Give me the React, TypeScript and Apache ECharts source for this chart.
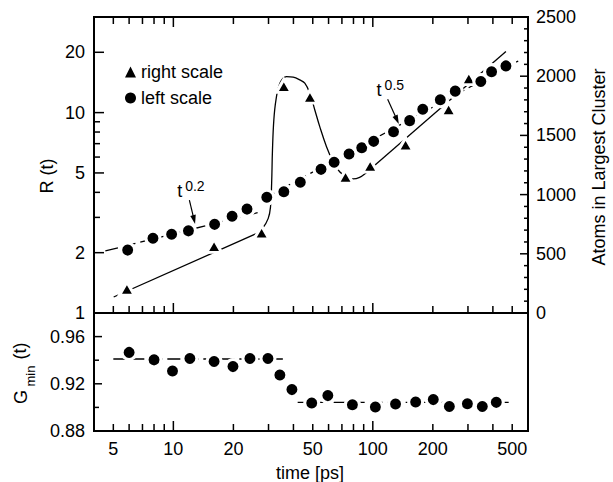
import React, { useEffect, useRef } from 'react';
import * as echarts from 'echarts';

// ---------------- data ----------------
const rTimes = [5.9, 7.9, 9.8, 11.9, 16.1, 19.7, 23.4, 29.4, 35.8, 43.3, 55, 64, 76, 88, 101, 127, 153, 178, 218, 259, 348, 394, 465];
const rValues = [2.06, 2.36, 2.47, 2.57, 2.77, 3.04, 3.30, 3.78, 4.03, 4.49, 5.21, 5.65, 6.22, 6.68, 7.19, 8.03, 9.12, 10.4, 11.6, 12.8, 14.3, 16.0, 17.1];
const atomTimes = [5.85, 16, 27.7, 35.8, 48.4, 73, 97, 146, 240, 303];
const atomValues = [206, 567, 680, 1918, 1828, 1151, 1244, 1425, 1721, 1984];
const gTimes = [6.0, 8.0, 9.9, 12.1, 16, 19.9, 24.2, 29.8, 34.2, 39.3, 49.4, 59.5, 79, 103, 130, 164, 201, 242, 298, 354, 416];
const gValues = [0.9466, 0.9403, 0.9308, 0.9414, 0.9389, 0.9346, 0.9414, 0.9414, 0.9274, 0.9151, 0.9037, 0.9100, 0.9023, 0.9003, 0.9029, 0.9046, 0.9066, 0.9008, 0.9031, 0.9008, 0.9043];

const fitEarlyTimes = [4.56, 27.2];
const fitEarlyValues = [2.04, 3.19];
const fitLateTimes = [28.1, 536];
const fitLateValues = [3.70, 18.1];
const atomLowTimes = [5.02, 26.2];
const atomLowValues = [135, 672];
const atomHumpTimes = [26.2, 28.0, 29.9, 30.7, 31.1, 31.4, 31.9, 32.7, 34.2, 36.9, 39.9, 43.0, 45.6, 48.3, 51.2, 54.2, 58.6, 63.2, 68.2, 73.7, 79.5, 85.9, 92.8, 98.3];
const atomHumpValues = [672, 714, 799, 897, 1095, 1377, 1631, 1800, 1941, 1997, 1992, 1969, 1941, 1857, 1715, 1574, 1405, 1278, 1193, 1151, 1132, 1146, 1185, 1222];
const atomHighTimes = [98.3, 465];
const atomHighValues = [1222, 2209];
const gEarlyTimes = [5, 35.4];
const gEarlyValues = [0.941, 0.941];
const gLateTimes = [42, 508];
const gLateValues = [0.9043, 0.9043];

const xLabelTicks = [5, 10, 20, 50, 100, 200, 500];
const xMinorTicks = [5, 6, 7, 8, 9, 20, 30, 40, 50, 60, 70, 80, 90, 200, 300, 400, 500];
const xDecadeTicks = [10, 100];
const rLabelTicks = [1, 2, 5, 10, 20];
const rMajorTicks = [2, 5, 10, 20];
const rMinorTicks = [3, 4, 6, 7, 8, 9];
const atomLabelTicks = [0, 500, 1000, 1500, 2000, 2500];
const atomMajorTicks = [500, 1000, 1500, 2000];
const atomMinorTicks = [100, 200, 300, 400, 600, 700, 800, 900, 1100, 1200, 1300, 1400, 1600, 1700, 1800, 1900, 2100, 2200, 2300, 2400];
const gLabelTicks = [0.88, 0.92, 0.96];
const gMajorTicks = [0.92, 0.96];
const gMinorTicks = [0.90, 0.94];

const X_MIN = 4, X_MAX = 600;
const R_MIN = 1, R_MAX = 30;
const A_MIN = 0, A_MAX = 2500;
const G_MIN = 0.88, G_MAX = 0.98;

const annot02 = { text: [10.45, 4.06], tail: [12.03, 3.66], tip: [12.85, 2.78], exp: '0.2' };
const annot05 = { text: [104.5, 12.99], tail: [118.7, 11.67], tip: [135, 8.78], exp: '0.5' };

const GRID_TOP = { left: 94, top: 17, width: 434, height: 296 };
const GRID_BOTTOM = { left: 94, top: 313, width: 434, height: 118 };

const FONT = 'Liberation Sans, Arial, Helvetica, sans-serif';
const zip = (a: number[], b: number[]) => a.map((v, i) => [v, b[i]]);

export default function App() {
  const ref = useRef<HTMLDivElement>(null);
  useEffect(() => {
    if (!ref.current) return;
    const chart = echarts.init(ref.current, undefined, { renderer: 'svg' });

    const labelStyle = { fontSize: 18, color: '#000', fontFamily: FONT };
    const noLine = { show: false, onZero: false };
    const dashed = { color: '#000', width: 1.3, type: [13, 5] as any };
    const solid = { color: '#000', width: 1.3 };
    const markerStyle = { color: '#000', borderColor: '#fff', borderWidth: 3, opacity: 1 };

    const option: any = {
      animation: false,
      backgroundColor: '#fff',
      grid: [
        { ...GRID_TOP, show: true, borderColor: '#000', borderWidth: 2, backgroundColor: 'transparent' },
        { ...GRID_BOTTOM, show: true, borderColor: '#000', borderWidth: 2, backgroundColor: 'transparent' },
      ],
      xAxis: [
        { type: 'log', gridIndex: 0, position: 'bottom', min: X_MIN, max: X_MAX, axisLine: noLine, axisTick: { show: false }, splitLine: { show: false }, axisLabel: { show: false } },
        {
          type: 'log', gridIndex: 1, position: 'bottom', min: X_MIN, max: X_MAX, axisLine: noLine, axisTick: { show: false }, splitLine: { show: false },
          axisLabel: { show: true, customValues: xLabelTicks, margin: 9, ...labelStyle, formatter: (v: number) => String(Math.round(v)) },
        },
      ],
      yAxis: [
        {
          type: 'log', gridIndex: 0, position: 'left', min: R_MIN, max: R_MAX, axisLine: noLine, axisTick: { show: false }, splitLine: { show: false },
          axisLabel: { show: true, customValues: rLabelTicks, margin: 9, ...labelStyle, formatter: (v: number) => String(Math.round(v)) },
        },
        {
          type: 'value', gridIndex: 0, position: 'right', min: A_MIN, max: A_MAX, interval: 500, axisLine: noLine, axisTick: { show: false }, splitLine: { show: false },
          axisLabel: { show: true, customValues: atomLabelTicks, margin: 8, ...labelStyle, formatter: (v: number) => String(Math.round(v)) },
        },
        {
          type: 'value', gridIndex: 1, position: 'left', min: G_MIN, max: G_MAX, axisLine: noLine, axisTick: { show: false }, splitLine: { show: false },
          axisLabel: { show: true, customValues: gLabelTicks, margin: 9, ...labelStyle, formatter: (v: number) => v.toFixed(2) },
        },
      ],
      legend: {
        left: 120, top: 58, orient: 'vertical', itemWidth: 11, itemHeight: 11, itemGap: 8, selectedMode: false,
        itemStyle: { borderWidth: 0, opacity: 1 },
        textStyle: { fontSize: 18, color: '#000', fontFamily: FONT },
        data: [ { name: 'right scale', icon: 'triangle' }, { name: 'left scale', icon: 'circle' } ],
      },
      series: [
        { type: 'line', name: 'fit early', xAxisIndex: 0, yAxisIndex: 0, data: zip(fitEarlyTimes, fitEarlyValues), symbol: 'none', lineStyle: dashed, z: 2, silent: true },
        { type: 'line', name: 'fit late', xAxisIndex: 0, yAxisIndex: 0, data: zip(fitLateTimes, fitLateValues), symbol: 'none', lineStyle: dashed, z: 2, silent: true },
        { type: 'line', name: 'atoms low', xAxisIndex: 0, yAxisIndex: 1, data: zip(atomLowTimes, atomLowValues), symbol: 'none', lineStyle: solid, z: 2, silent: true },
        { type: 'line', name: 'atoms hump', xAxisIndex: 0, yAxisIndex: 1, data: zip(atomHumpTimes, atomHumpValues), symbol: 'none', smooth: 0.4, lineStyle: solid, z: 2, silent: true },
        { type: 'line', name: 'atoms high', xAxisIndex: 0, yAxisIndex: 1, data: zip(atomHighTimes, atomHighValues), symbol: 'none', lineStyle: solid, z: 2, silent: true },
        { type: 'line', name: 'g early', xAxisIndex: 1, yAxisIndex: 2, data: zip(gEarlyTimes, gEarlyValues), symbol: 'none', lineStyle: dashed, z: 2, silent: true },
        { type: 'line', name: 'g late', xAxisIndex: 1, yAxisIndex: 2, data: zip(gLateTimes, gLateValues), symbol: 'none', lineStyle: dashed, z: 2, silent: true },
        { type: 'scatter', name: 'right scale', xAxisIndex: 0, yAxisIndex: 1, data: zip(atomTimes, atomValues), symbol: 'triangle', symbolSize: [15, 13], itemStyle: markerStyle, z: 4 },
        { type: 'scatter', name: 'left scale', xAxisIndex: 0, yAxisIndex: 0, data: zip(rTimes, rValues), symbol: 'circle', symbolSize: 14, itemStyle: markerStyle, z: 4 },
        { type: 'scatter', name: 'G min', xAxisIndex: 1, yAxisIndex: 2, data: zip(gTimes, gValues), symbol: 'circle', symbolSize: 14, itemStyle: markerStyle, z: 4 },
      ],
    };
    chart.setOption(option);

    // ---- tick marks: positions along each axis come from the axis scale ----
    const ticks: any[] = [];
    const tickLine = (x1: number, y1: number, x2: number, y2: number) =>
      ticks.push({ type: 'polyline', z: 100, shape: { points: [[x1, y1], [x2, y2]] }, style: { stroke: '#000', lineWidth: 1.5, fill: null } });
    const xCoord = (xi: number, v: number) => {
      const r: any = chart.convertToPixel({ xAxisIndex: xi }, v);
      return Array.isArray(r) ? r[0] : r;
    };
    const yCoord = (yi: number, v: number) => {
      const r: any = chart.convertToPixel({ yAxisIndex: yi }, v);
      return Array.isArray(r) ? r[1] : r;
    };
    const xTicks = (xi: number, values: number[], edgeY: number, dir: number, len: number) =>
      values.forEach((v) => { const x = xCoord(xi, v); tickLine(x, edgeY, x, edgeY + dir * len); });
    const yTicks = (yi: number, values: number[], edgeX: number, dir: number, len: number) =>
      values.forEach((v) => { const y = yCoord(yi, v); tickLine(edgeX, y, edgeX + dir * len, y); });

    const topBottomEdge = GRID_TOP.top + GRID_TOP.height;
    const rightEdge = GRID_TOP.left + GRID_TOP.width;
    const lowBottomEdge = GRID_BOTTOM.top + GRID_BOTTOM.height;
    xTicks(0, xMinorTicks, topBottomEdge, -1, 7);
    xTicks(0, xDecadeTicks, topBottomEdge, -1, 10);
    xTicks(0, xMinorTicks, GRID_TOP.top, 1, 7);
    xTicks(0, xDecadeTicks, GRID_TOP.top, 1, 10);
    yTicks(0, rMinorTicks, GRID_TOP.left, 1, 6);
    yTicks(0, rMajorTicks, GRID_TOP.left, 1, 10);
    yTicks(1, atomMinorTicks, rightEdge, -1, 4);
    yTicks(1, atomMajorTicks, rightEdge, -1, 8);
    xTicks(1, xMinorTicks, lowBottomEdge, -1, 7);
    xTicks(1, xDecadeTicks, lowBottomEdge, -1, 10);
    yTicks(2, gMinorTicks, GRID_BOTTOM.left, 1, 5);
    yTicks(2, gMajorTicks, GRID_BOTTOM.left, 1, 8);

    const px = (p: number[]) => chart.convertToPixel({ xAxisIndex: 0, yAxisIndex: 0 }, p) as number[];
    const annotation = (a: { text: number[]; tail: number[]; tip: number[]; exp: string }) => {
      const t = px(a.text);
      const tail = px(a.tail);
      const tip = px(a.tip);
      const dx = tip[0] - tail[0];
      const dy = tip[1] - tail[1];
      const L = Math.hypot(dx, dy);
      const ux = dx / L, uy = dy / L;
      const nx = -uy, ny = ux;
      const hl = 9, hw = 2.8;
      return [
        { type: 'text', x: t[0], y: t[1], style: { text: 't', fontSize: 18, fontFamily: FONT, fill: '#000', align: 'left', verticalAlign: 'middle' } },
        { type: 'text', x: t[0] + 8, y: t[1] - 5, style: { text: a.exp, fontSize: 14, fontFamily: FONT, fill: '#000', align: 'left', verticalAlign: 'middle' } },
        { type: 'line', shape: { x1: tail[0], y1: tail[1], x2: tip[0] - ux * (hl - 2), y2: tip[1] - uy * (hl - 2) }, style: { stroke: '#000', lineWidth: 1.2 } },
        { type: 'polygon', shape: { points: [[tip[0], tip[1]], [tip[0] - ux * hl + nx * hw, tip[1] - uy * hl + ny * hw], [tip[0] - ux * hl - nx * hw, tip[1] - uy * hl - ny * hw]] }, style: { fill: '#000' } },
      ];
    };

    const titleStyle = { fontSize: 18, fontFamily: FONT, fill: '#000', align: 'center', verticalAlign: 'middle' };
    chart.setOption({
      graphic: [
        ...annotation(annot02),
        ...annotation(annot05),
        { type: 'text', x: 47, y: 176, rotation: Math.PI / 2, style: { ...titleStyle, text: 'R (t)' } },
        { type: 'text', x: 599, y: 167, rotation: Math.PI / 2, style: { ...titleStyle, text: 'Atoms in Largest Cluster' } },
        { type: 'text', x: 21, y: 397, rotation: Math.PI / 2, style: { ...titleStyle, text: 'G' } },
        { type: 'text', x: 30, y: 376, rotation: Math.PI / 2, style: { ...titleStyle, fontSize: 13, text: 'min' } },
        { type: 'text', x: 20, y: 351, rotation: Math.PI / 2, style: { ...titleStyle, text: '(t)' } },
        { type: 'text', x: 310, y: 473, style: { ...titleStyle, text: 'time [ps]' } },
        ...ticks,
      ],
    });

    return () => chart.dispose();
  }, []);

  return <div ref={ref} style={{ position: 'absolute', left: 0, top: 0, width: 613, height: 482, background: '#fff' }} />;
}
